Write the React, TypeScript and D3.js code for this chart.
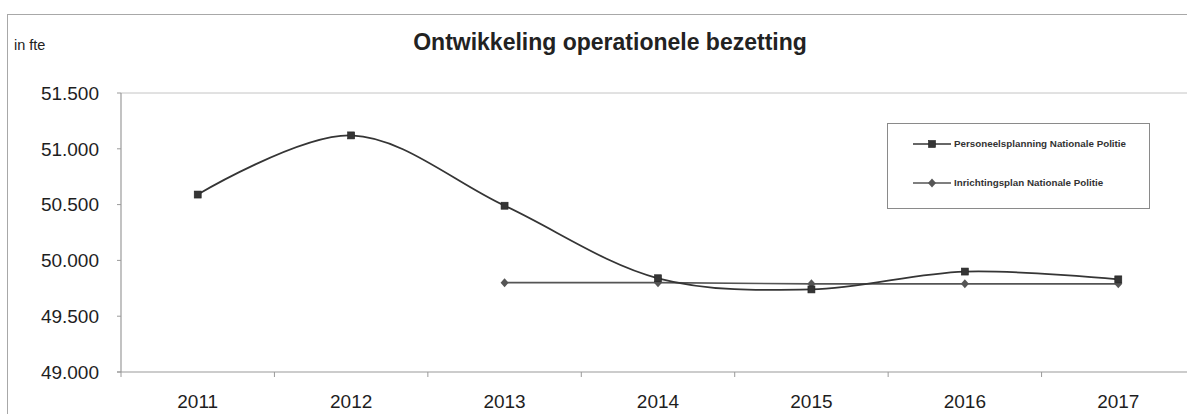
import React from "react";
import * as d3 from "d3";

const years = ["2011", "2012", "2013", "2014", "2015", "2016", "2017"];
const personeelsplanning = [50590, 51120, 50490, 49840, 49740, 49900, 49830];
const inrichtingsplanYears = ["2013", "2014", "2015", "2016", "2017"];
const inrichtingsplan = [49800, 49800, 49790, 49790, 49790];
const yTicks = [49000, 49500, 50000, 50500, 51000, 51500];
const seriesNames = ["Personeelsplanning Nationale Politie", "Inrichtingsplan Nationale Politie"];

const W = 1187;
const H = 414;
const left = 121;
const right = 1195;
const top = 93;
const bottom = 372;

const fmtNL = (v: number) => (v / 1000).toFixed(3);

export default function App() {
  const x = d3.scaleBand<string>().domain(years).range([left, right]).paddingInner(0).paddingOuter(0);
  const y = d3.scaleLinear().domain([49000, 51500]).range([bottom, top]);
  const cx = (yr: string) => (x(yr) as number) + x.bandwidth() / 2;

  const smooth = d3
    .line<number>()
    .x((_, i) => cx(years[i]))
    .y((d) => y(d))
    .curve(d3.curveCatmullRom.alpha(0.5));
  const straight = d3
    .line<number>()
    .x((_, i) => cx(inrichtingsplanYears[i]))
    .y((d) => y(d));

  const lineColor = "#353535";
  const line2Color = "#555";
  const axisColor = "#9a9a9a";
  const font = "'Liberation Sans', Arial, sans-serif";

  const square = (px: number, py: number, key: string | number) => (
    <rect key={key} x={px - 3.5} y={py - 3.5} width={7} height={7} fill={lineColor} stroke="#222" strokeWidth={0.6} />
  );
  const diamond = (px: number, py: number, key: string | number) => (
    <path key={key} d={`M${px},${py - 4.5}L${px + 4},${py}L${px},${py + 4.5}L${px - 4},${py}Z`} fill={line2Color} />
  );

  const boundaries = years.map((yr) => x(yr) as number).concat([right]);

  return (
    <div style={{ position: "absolute", left: 0, top: 0, width: W, height: H, background: "#fff" }}>
      <svg width={W} height={H} style={{ display: "block", fontFamily: font }}>
        <rect x={0} y={0} width={W} height={H} fill="#fff" />
        {/* outer frame */}
        <rect x={7.5} y={14.5} width={1200} height={420} fill="none" stroke="#a8a8a8" strokeWidth={1} />
        {/* title */}
        <text x={610} y={50} textAnchor="middle" fontSize={23} fontWeight="bold" fill="#222">
          Ontwikkeling operationele bezetting
        </text>
        <text x={14} y={50} fontSize={14.5} fill="#222">
          in fte
        </text>
        {/* top gridline */}
        <line x1={left} x2={right} y1={y(51500)} y2={y(51500)} stroke="#c4c4c4" strokeWidth={1} />
        {/* y axis */}
        <line x1={left} x2={left} y1={top} y2={bottom} stroke={axisColor} strokeWidth={1.2} />
        {yTicks.map((t) => (
          <g key={t}>
            <line x1={left - 4} x2={left} y1={y(t)} y2={y(t)} stroke={axisColor} strokeWidth={1} />
            <text x={99} y={y(t)} dy="0.36em" textAnchor="end" fontSize={19} fill="#1e1e1e">
              {fmtNL(t)}
            </text>
          </g>
        ))}
        {/* x axis */}
        <line x1={left - 4} x2={right} y1={bottom} y2={bottom} stroke={axisColor} strokeWidth={1.2} />
        {boundaries.map((b, i) => (
          <line key={i} x1={b} x2={b} y1={bottom} y2={bottom + 5} stroke={axisColor} strokeWidth={1} />
        ))}
        {years.map((yr) => (
          <text key={yr} x={cx(yr)} y={408} textAnchor="middle" fontSize={19} fill="#1e1e1e">
            {yr}
          </text>
        ))}
        {/* series 2: inrichtingsplan */}
        <path d={straight(inrichtingsplan) || ""} fill="none" stroke={line2Color} strokeWidth={1.7} />
        {inrichtingsplan.map((v, i) => diamond(cx(inrichtingsplanYears[i]), y(v), "d" + i))}
        {/* series 1: personeelsplanning */}
        <path d={smooth(personeelsplanning) || ""} fill="none" stroke={lineColor} strokeWidth={1.8} />
        {personeelsplanning.map((v, i) => square(cx(years[i]), y(v), "s" + i))}
        {/* legend */}
        <rect x={887.5} y={123.5} width={262} height={85} fill="#fff" stroke="#8a8a8a" strokeWidth={1} />
        <line x1={913} x2={951} y1={144} y2={144} stroke={lineColor} strokeWidth={1.6} />
        {square(932, 144, "ls")}
        <text x={954} y={144} dy="0.35em" fontSize={9.8} fontWeight="bold" fill="#333">
          {seriesNames[0]}
        </text>
        <line x1={913} x2={951} y1={183} y2={183} stroke={line2Color} strokeWidth={1.6} />
        {diamond(932, 183, "ld")}
        <text x={954} y={183} dy="0.35em" fontSize={9.8} fontWeight="bold" fill="#333">
          {seriesNames[1]}
        </text>
      </svg>
    </div>
  );
}
